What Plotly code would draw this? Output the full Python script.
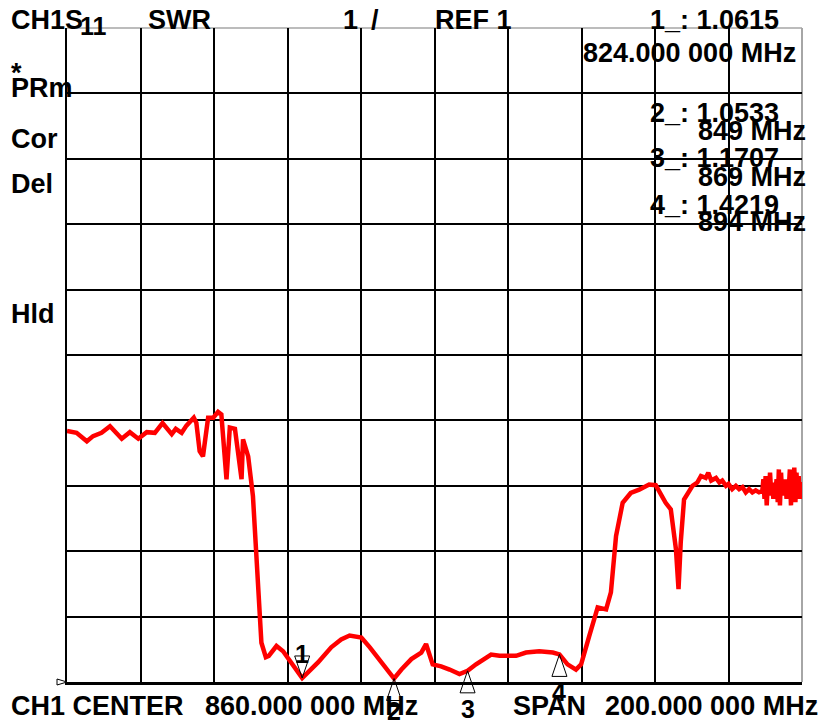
import plotly.graph_objects as go

# ---------------- data ----------------
freq_mhz = [
    760.0, 762.6, 765.4, 767.1, 769.4, 771.7, 774.9, 777.1, 779.4, 781.7,
    783.9, 786.0, 788.5, 789.6, 791.2, 792.5, 794.5, 795.2, 796.1, 797.0,
    798.4, 799.8, 801.1, 802.0, 803.4, 804.3, 805.7, 807.5, 807.9, 809.3,
    810.6, 811.4, 812.0, 812.9, 814.1, 814.9, 817.0, 818.8, 824.0, 828.3,
    831.9, 834.6, 836.9, 839.2, 840.1, 842.4, 845.6, 849.0, 851.0, 853.7,
    856.4, 857.7, 859.5, 861.8, 864.1, 866.8, 869.0, 871.3, 875.4, 877.7,
    882.2, 884.9, 888.5, 892.2, 894.0, 896.2, 898.5, 899.9, 902.1, 904.4,
    906.7, 908.0, 909.4, 911.2, 913.4, 915.7, 918.4, 920.2, 922.9, 924.3,
    925.7, 926.4, 927.0, 927.9, 930.2, 931.5, 932.5, 933.8, 934.5, 935.3,
    936.6, 937.5, 938.3, 939.3, 940.0, 941.0, 942.0, 942.9, 943.8, 944.7,
    945.6, 946.5, 947.4, 948.3, 949.2, 949.5, 949.8, 950.1, 950.4, 950.7,
    951.0, 951.3, 951.6, 951.9, 952.2, 952.5, 952.8, 953.1, 953.4, 953.7,
    954.0, 954.3, 954.6, 954.9, 955.2, 955.5, 955.8, 956.1, 956.4, 956.7,
    957.0, 957.3, 957.6, 957.9, 958.2, 958.5, 958.8, 959.1, 959.4, 959.7,
    960.0,
]
swr = [
    4.84, 4.81, 4.68, 4.76, 4.81, 4.91, 4.72, 4.82, 4.72, 4.82,
    4.81, 4.96, 4.79, 4.87, 4.81, 4.92, 5.04, 4.96, 4.53, 4.45,
    5.04, 5.04, 5.13, 5.09, 4.10, 4.89, 4.87, 4.10, 4.71, 4.45,
    3.84, 3.03, 2.26, 1.60, 1.38, 1.40, 1.55, 1.47, 1.0615, 1.30,
    1.53, 1.65, 1.71, 1.70, 1.68, 1.53, 1.30, 1.0533, 1.19, 1.35,
    1.45, 1.58, 1.27, 1.24, 1.19, 1.12, 1.1707, 1.27, 1.42, 1.40,
    1.40, 1.45, 1.47, 1.45, 1.4219, 1.27, 1.19, 1.27, 1.70, 2.14,
    2.11, 2.37, 3.23, 3.74, 3.89, 3.94, 4.02, 4.01, 3.74, 3.64,
    3.03, 2.42, 3.13, 3.79, 4.00, 4.05, 4.15, 4.12, 4.20, 4.08,
    4.12, 4.05, 4.08, 4.00, 4.03, 3.95, 4.00, 3.95, 3.98, 3.90,
    3.95, 3.90, 3.93, 3.90, 3.92, 4.10, 3.80, 4.15, 3.70, 4.05,
    3.85, 4.20, 3.90, 4.05, 3.80, 4.00, 3.95, 4.10, 3.75, 4.25,
    3.70, 4.20, 3.85, 4.05, 3.90, 4.10, 3.80, 4.00, 3.95, 4.25,
    3.70, 4.15, 3.80, 4.28, 3.75, 4.20, 3.85, 4.15, 3.80, 4.05,
    4.00,
]

marker_ids = ["1", "2", "3", "4"]
marker_freq = [824, 849, 869, 894]
marker_swr = [1.0615, 1.0533, 1.1707, 1.4219]
marker_active = [True, False, False, False]

center_mhz = 860.0
span_mhz = 200.0
ref_value = 1.0
scale_per_div = 1.0
n_div = 10

# ---------------- styling / layout ----------------
W, H = 828, 724
L, R, T, B = 67, 26, 28, 42
PW, PH = W - L - R, H - T - B
FONT = "Liberation Sans, Arial, Helvetica, sans-serif"

x_lo = center_mhz - span_mhz / 2
x_hi = center_mhz + span_mhz / 2
y_lo = ref_value
y_hi = ref_value + n_div * scale_per_div
x_grid = [x_lo + i * span_mhz / n_div for i in range(1, n_div)]
y_grid = [y_lo + i * scale_per_div for i in range(1, n_div)]

fig = go.Figure()
fig.add_trace(go.Scatter(
    x=freq_mhz, y=swr, mode="lines",
    line=dict(color="#ff0000", width=4.5),
    hoverinfo="skip", showlegend=False,
))

def px_to_paper(px, py):
    return (px - L) / PW, (H - B - py) / PH

annotations = []

def add_text(text, px, py, size=27):
    xp, yp = px_to_paper(px, py)
    annotations.append(dict(
        text=text, x=xp, y=yp, xref="paper", yref="paper",
        xanchor="left", yanchor="middle", showarrow=False, borderpad=0,
        font=dict(family=FONT, size=size, color="black", weight="bold"),
    ))

NB = "\u00a0"
header = [
    ("CH1S", 10, 20, 27),
    ("11", 79, 26, 25),
    ("SWR", 147, 20, 27),
    ("1", 342, 20, 27),
    ("/", 370, 20, 27),
    ("REF" + NB + "1", 434, 20, 27),
    ("1_:" + NB + "1.0615", 649, 20, 27),
    ("824.000" + NB + "000" + NB + "MHz", 582, 53, 27),
    ("2_:" + NB + "1.0533", 649, 113, 27),
    ("849" + NB + "MHz", 697, 131, 27),
    ("3_:" + NB + "1.1707", 649, 158, 27),
    ("869" + NB + "MHz", 697, 177, 27),
    ("4_:" + NB + "1.4219", 649, 205, 27),
    ("894" + NB + "MHz", 697, 222, 27),
    ("*", 10, 73, 27),
    ("PRm", 10, 88, 27),
    ("Cor", 10, 139, 27),
    ("Del", 10, 184, 27),
    ("Hld", 10, 314, 27),
    ("CH1" + NB + "CENTER", 10, 706, 27),
    ("860.000" + NB + "000" + NB + "MHz", 204, 706, 27),
    ("SPAN", 512, 706, 27),
    ("200.000" + NB + "000" + NB + "MHz", 604, 706, 27),
]
for t, px, py, s in header:
    add_text(t, px, py, s)

shapes = []
label_shift = [24, -32, -38, -38]
for mid, f, v, act, sh in zip(marker_ids, marker_freq, marker_swr, marker_active, label_shift):
    xa = (f - x_lo) / span_mhz
    ya = (v - y_lo) / (y_hi - y_lo)
    path = "M0,0 L-7.5,22 L7.5,22 Z" if act else "M0,0 L-7.5,-22 L7.5,-22 Z"
    shapes.append(dict(
        type="path", xref="paper", yref="paper",
        xsizemode="pixel", ysizemode="pixel", xanchor=xa, yanchor=ya,
        path=path, line=dict(color="black", width=1), fillcolor="rgba(0,0,0,0)",
        layer="above",
    ))
    annotations.append(dict(
        text=mid, x=f, y=v, xref="x", yref="y", yshift=sh,
        showarrow=False, xanchor="center", yanchor="middle",
        font=dict(family=FONT, size=25, color="black", weight="bold"),
    ))

# reference-level marker at left edge
shapes.append(dict(
    type="path", xref="paper", yref="paper",
    xsizemode="pixel", ysizemode="pixel", xanchor=0, yanchor=(ref_value - y_lo) / (y_hi - y_lo),
    path="M-10,3 L-10,-3 L0,0 Z", line=dict(color="black", width=1), fillcolor="white",
    layer="above",
))
# grey top and right frame
shapes.append(dict(type="line", xref="paper", yref="paper", x0=0, x1=1, y0=1, y1=1,
                   line=dict(color="#a6a6a6", width=1.5), layer="below"))
shapes.append(dict(type="line", xref="paper", yref="paper", x0=1, x1=1, y0=0, y1=1,
                   line=dict(color="#a6a6a6", width=2), layer="below"))

fig.update_layout(
    width=W, height=H,
    margin=dict(l=L, r=R, t=T, b=B, pad=0),
    paper_bgcolor="white", plot_bgcolor="white",
    showlegend=False,
    xaxis=dict(range=[x_lo, x_hi], tickvals=x_grid, showticklabels=False, ticks="",
               showgrid=True, gridcolor="black", gridwidth=2, zeroline=False,
               showline=True, linecolor="black", linewidth=2.5, fixedrange=True),
    yaxis=dict(range=[y_lo, y_hi], tickvals=y_grid, showticklabels=False, ticks="",
               showgrid=True, gridcolor="black", gridwidth=2, zeroline=False,
               showline=True, linecolor="black", linewidth=1.5, fixedrange=True),
    annotations=annotations,
    shapes=shapes,
)

fig.write_html("out.html", config={"displayModeBar": False},
               post_script="document.body.style.margin='0';")
